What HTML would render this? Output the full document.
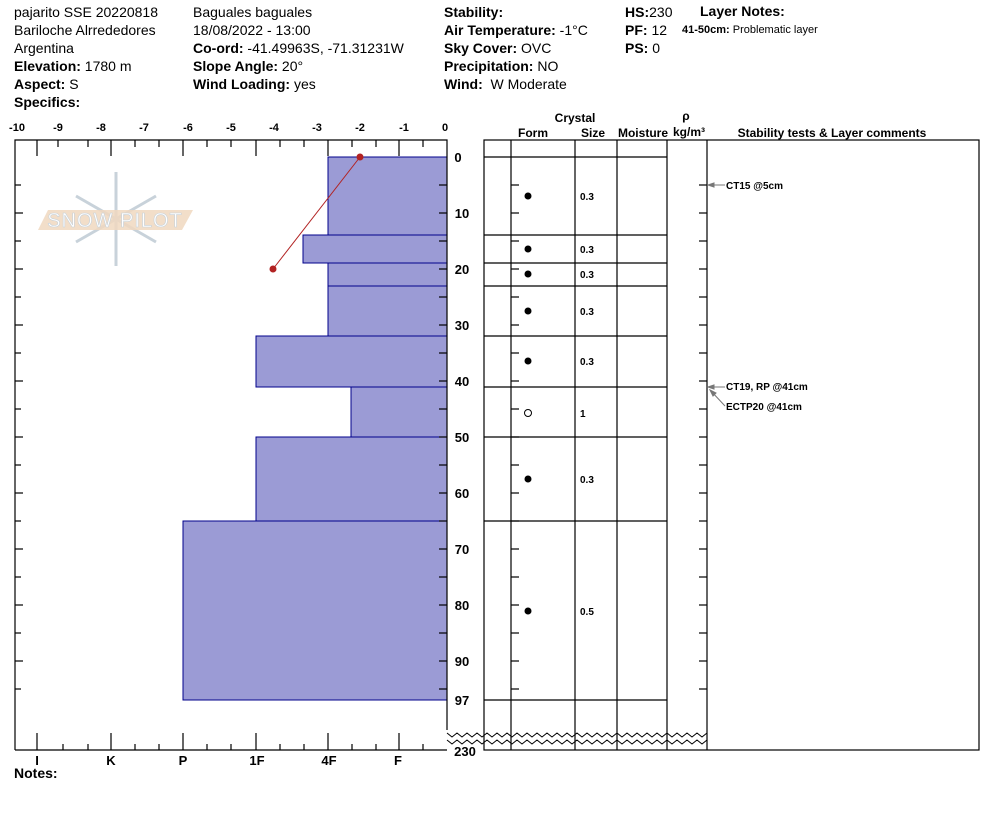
<!DOCTYPE html>
<html><head><style>
body{margin:0;background:#fff;font-family:"Liberation Sans",Arial,sans-serif;}
.h{position:absolute;font-size:14px;white-space:nowrap;color:#000}
b{font-weight:bold}
</style></head><body>
<div style="position:relative;width:994px;height:840px;overflow:hidden">
<div class="h" style="left:14px;top:3px;line-height:18px">pajarito SSE 20220818<br>Bariloche Alrrededores<br>Argentina<br><b>Elevation:</b> 1780 m<br><b>Aspect:</b> S<br><b>Specifics:</b></div>
<div class="h" style="left:193px;top:3px;line-height:18px">Baguales baguales<br>18/08/2022 - 13:00<br><b>Co-ord:</b> -41.49963S, -71.31231W<br><b>Slope Angle:</b> 20°<br><b>Wind Loading:</b> yes</div>
<div class="h" style="left:444px;top:3px;line-height:18px"><b>Stability:</b><br><b>Air Temperature:</b> -1°C<br><b>Sky Cover:</b> OVC<br><b>Precipitation:</b> NO<br><b>Wind:</b>&nbsp; W Moderate</div>
<div class="h" style="left:625px;top:3px;line-height:18px"><b>HS:</b>230<br><b>PF:</b> 12<br><b>PS:</b> 0</div>
<div class="h" style="left:700px;top:3px"><b>Layer Notes:</b></div>
<div class="h" style="left:682px;top:24px;font-size:11px"><b>41-50cm:</b> Problematic layer</div>
<svg width="994" height="840" style="position:absolute;left:0;top:0" font-family="Liberation Sans, Arial, sans-serif">
<g fill="#9b9bd5" stroke="#00008b" stroke-width="1">
<rect x="328" y="157" width="119" height="78"/>
<rect x="303" y="235" width="144" height="28"/>
<rect x="328" y="263" width="119" height="23"/>
<rect x="328" y="286" width="119" height="50"/>
<rect x="256" y="336" width="191" height="51"/>
<rect x="351" y="387" width="96" height="50"/>
<rect x="256" y="437" width="191" height="84"/>
<rect x="183" y="521" width="264" height="179"/>
</g>
<g>
<g stroke="#c8d2da" stroke-width="3" fill="none">
<line x1="116" y1="172" x2="116" y2="266"/><line x1="76" y1="196" x2="156" y2="242"/><line x1="76" y1="242" x2="156" y2="196"/>
</g>
<polygon points="48,210 193,210 182,230 38,230" fill="#f0d8c0" opacity="0.85"/>
<text x="115" y="227" font-size="20" fill="#fff" stroke="#c8d2da" stroke-width="0.6" text-anchor="middle" letter-spacing="1">SNOW PILOT</text>
</g>
<line x1="360" y1="157" x2="273" y2="269" stroke="#b22222" stroke-width="1"/>
<circle cx="360" cy="157" r="3.5" fill="#b22222"/><circle cx="273" cy="269" r="3.5" fill="#b22222"/>
<g stroke="#000" fill="none" stroke-width="1.2">
<polyline points="15,750 15,140 447,140 447,730"/>
<line x1="15" y1="750" x2="447" y2="750"/>
<rect x="484" y="140" width="495" height="610"/>
<line x1="511" y1="140" x2="511" y2="750"/><line x1="575" y1="140" x2="575" y2="750"/><line x1="617" y1="140" x2="617" y2="750"/><line x1="667" y1="140" x2="667" y2="750"/><line x1="707" y1="140" x2="707" y2="750"/>
<line x1="484" y1="157" x2="667" y2="157"/><line x1="484" y1="235" x2="667" y2="235"/><line x1="484" y1="263" x2="667" y2="263"/><line x1="484" y1="286" x2="667" y2="286"/><line x1="484" y1="336" x2="667" y2="336"/><line x1="484" y1="387" x2="667" y2="387"/><line x1="484" y1="437" x2="667" y2="437"/><line x1="484" y1="521" x2="667" y2="521"/><line x1="484" y1="700" x2="667" y2="700"/>
</g>
<g stroke="#000" stroke-width="1.2">
<line x1="37" y1="140" x2="37" y2="156"/><line x1="111" y1="140" x2="111" y2="156"/><line x1="183" y1="140" x2="183" y2="156"/><line x1="256" y1="140" x2="256" y2="156"/><line x1="328" y1="140" x2="328" y2="156"/><line x1="399" y1="140" x2="399" y2="156"/>
<line x1="58" y1="140" x2="58" y2="147"/><line x1="88" y1="140" x2="88" y2="147"/><line x1="135" y1="140" x2="135" y2="147"/><line x1="159" y1="140" x2="159" y2="147"/><line x1="207" y1="140" x2="207" y2="147"/><line x1="231" y1="140" x2="231" y2="147"/><line x1="280" y1="140" x2="280" y2="147"/><line x1="304" y1="140" x2="304" y2="147"/><line x1="352" y1="140" x2="352" y2="147"/><line x1="376" y1="140" x2="376" y2="147"/><line x1="423" y1="140" x2="423" y2="147"/>
<line x1="37" y1="733" x2="37" y2="750"/><line x1="111" y1="733" x2="111" y2="750"/><line x1="183" y1="733" x2="183" y2="750"/><line x1="256" y1="733" x2="256" y2="750"/><line x1="328" y1="733" x2="328" y2="750"/><line x1="399" y1="733" x2="399" y2="750"/>
<line x1="63" y1="744" x2="63" y2="750"/><line x1="88" y1="744" x2="88" y2="750"/><line x1="135" y1="744" x2="135" y2="750"/><line x1="159" y1="744" x2="159" y2="750"/><line x1="207" y1="744" x2="207" y2="750"/><line x1="231" y1="744" x2="231" y2="750"/><line x1="280" y1="744" x2="280" y2="750"/><line x1="304" y1="744" x2="304" y2="750"/><line x1="352" y1="744" x2="352" y2="750"/><line x1="376" y1="744" x2="376" y2="750"/><line x1="423" y1="744" x2="423" y2="750"/>
</g>
<g stroke="#000" stroke-width="1.2" id="dt"></g>
<g font-size="11" font-weight="bold" text-anchor="middle">
<text x="17" y="131">-10</text><text x="58" y="131">-9</text><text x="101" y="131">-8</text><text x="144" y="131">-7</text><text x="188" y="131">-6</text><text x="231" y="131">-5</text><text x="274" y="131">-4</text><text x="317" y="131">-3</text><text x="360" y="131">-2</text><text x="404" y="131">-1</text><text x="445" y="131">0</text>
</g>
<g font-size="13" font-weight="bold" text-anchor="middle">
<text x="37" y="765">I</text><text x="111" y="765">K</text><text x="183" y="765">P</text><text x="257" y="765">1F</text><text x="329" y="765">4F</text><text x="398" y="765">F</text>
</g>
<text x="14" y="778" font-size="14" font-weight="bold">Notes:</text>
<g font-size="13" font-weight="bold" text-anchor="middle">
<text x="458" y="162">0</text><text x="462" y="218">10</text><text x="462" y="274">20</text><text x="462" y="330">30</text><text x="462" y="386">40</text><text x="462" y="442">50</text><text x="462" y="498">60</text><text x="462" y="554">70</text><text x="462" y="610">80</text><text x="462" y="666">90</text><text x="462" y="705">97</text><text x="465" y="756">230</text>
</g>
<g font-size="12" font-weight="bold" text-anchor="middle">
<text x="575" y="122">Crystal</text><text x="533" y="137">Form</text><text x="593" y="137">Size</text><text x="643" y="137">Moisture</text><text x="686" y="120">ρ</text><text x="689" y="136">kg/m³</text><text x="832" y="137">Stability tests &amp; Layer comments</text>
</g>
<g fill="#000"><circle cx="528" cy="196" r="3.5"/><circle cx="528" cy="249" r="3.5"/><circle cx="528" cy="274" r="3.5"/><circle cx="528" cy="311" r="3.5"/><circle cx="528" cy="361" r="3.5"/><circle cx="528" cy="479" r="3.5"/><circle cx="528" cy="611" r="3.5"/></g>
<circle cx="528" cy="413" r="3.5" fill="#fff" stroke="#000"/>
<g font-size="10" font-weight="bold"><text x="580" y="200">0.3</text><text x="580" y="253">0.3</text><text x="580" y="278">0.3</text><text x="580" y="315">0.3</text><text x="580" y="365">0.3</text><text x="580" y="417">1</text><text x="580" y="483">0.3</text><text x="580" y="615">0.5</text>
<text x="726" y="189">CT15 @5cm</text><text x="726" y="390">CT19, RP @41cm</text><text x="726" y="410">ECTP20 @41cm</text></g>
<g stroke="#777" fill="#777"><line x1="708" y1="185" x2="725" y2="185"/><polygon points="708,185 714,183 714,187"/><line x1="708" y1="387" x2="725" y2="387"/><polygon points="708,387 714,385 714,389"/><line x1="711" y1="391" x2="725" y2="406"/><polygon points="710,390 716,393 713,396"/></g>
<polyline id="w1" fill="none" stroke="#000" stroke-width="1"/><polyline id="w2" fill="none" stroke="#000" stroke-width="1"/>
</svg>
</div>
<script>
var g=document.getElementById('dt'),s='';
for(var d=5;d<=95;d+=5){var y=157+d*5.6;
s+='<line x1="15" y1="'+y+'" x2="'+(d%10?21:23)+'" y2="'+y+'"/>';
s+='<line x1="439" y1="'+y+'" x2="447" y2="'+y+'"/>';
s+='<line x1="511" y1="'+y+'" x2="519" y2="'+y+'"/>';
s+='<line x1="699" y1="'+y+'" x2="707" y2="'+y+'"/>';}
g.innerHTML=s;
var p1='',p2='';for(var x=447,i=0;x<=708;x+=5,i++){var o=i%2?4:0;p1+=x+','+(733+o)+' ';p2+=x+','+(740+o)+' ';}
document.getElementById('w1').setAttribute('points',p1);document.getElementById('w2').setAttribute('points',p2);
</script>
</body></html>
